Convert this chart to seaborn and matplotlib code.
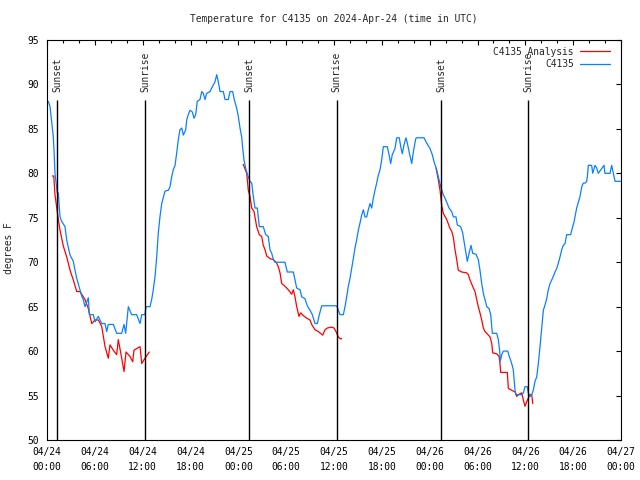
import numpy as np
import pandas as pd
import matplotlib
matplotlib.use("Agg")
import matplotlib.pyplot as plt
import matplotlib.dates as mdates
import seaborn as sns

# hours since 2024-04-24 00:00 UTC, temperatures in F
obs_hours = [0.16, 0.38, 0.66, 0.79, 0.88, 1.0, 1.29, 1.42, 1.63, 1.84, 2.26, 2.47, 2.89, 3.30, 3.51, 3.73,
             4.14, 4.35, 4.55, 4.77, 5.18, 5.31, 5.81, 6.02, 6.44, 6.86, 7.28, 7.49, 7.69, 8.32, 8.74, 9.37,
             9.66, 9.87, 10.20, 10.62, 11.25, 11.67, 11.88, 12.29, 12.42, 12.92, 13.13, 13.33, 13.55, 13.76,
             13.96, 14.17, 14.39, 14.80, 15.22, 15.43, 15.64, 15.84, 16.06, 16.27, 16.47, 16.68, 16.90, 17.10,
             17.40, 17.52, 17.72, 17.94, 18.23, 18.44, 18.65, 18.85, 19.19, 19.41, 19.61, 19.82, 20.03, 20.45,
             20.66, 21.07, 21.29, 21.49, 21.70, 22.12, 22.33, 22.74, 22.96, 23.29, 23.49, 23.80, 24.00, 24.21,
             24.42, 24.55, 24.71, 24.96, 25.25, 25.46, 25.68, 25.88, 26.09, 26.38, 26.63, 27.13, 27.43, 27.76,
             27.97, 28.19, 28.39, 28.60, 29.85, 30.14, 30.90, 31.11, 31.32, 31.74, 31.95, 32.36, 32.65, 32.99,
             33.28, 33.62, 33.91, 34.16, 34.46, 36.34, 36.54, 36.75, 37.17, 37.38, 37.59, 37.80, 38.01, 38.22,
             38.42, 38.63, 38.84, 39.05, 39.26, 39.47, 39.68, 39.89, 40.10, 40.30, 40.52, 40.73, 40.93, 41.14,
             41.35, 41.56, 41.77, 41.98, 42.19, 42.69, 42.90, 43.11, 43.31, 43.65, 43.87, 44.19, 44.37, 44.57,
             44.78, 45.03, 45.20, 45.45, 45.75, 45.95, 46.25, 46.37, 47.29, 47.63, 48.04, 48.33, 48.55, 48.88,
             49.17, 49.38, 49.71, 49.92, 50.21, 50.43, 50.76, 50.97, 51.30, 51.47, 51.89, 52.14, 52.35, 52.52,
             52.72, 52.94, 53.19, 53.40, 53.81, 54.10, 54.31, 54.53, 54.73, 54.94, 55.16, 55.44, 55.66, 55.86,
             56.41, 56.61, 56.80, 56.83, 57.04, 57.24, 57.79, 57.99, 58.29, 58.49, 58.71, 58.83, 59.55, 59.75,
             59.96, 60.25, 60.37, 60.59, 60.80, 61.00, 61.21, 61.43, 61.63, 61.84, 62.05, 62.26, 62.47, 62.68,
             62.88, 63.10, 63.31, 63.51, 63.72, 63.94, 64.14, 64.35, 64.56, 64.76, 64.98, 65.19, 65.69, 65.82,
             66.10, 66.44, 66.86, 67.08, 67.27, 67.49, 67.70, 67.82, 67.90, 68.32, 68.45, 68.74, 68.95, 69.15,
             69.87, 69.99, 70.62, 70.83, 71.04, 71.25, 72.0]
obs_temps = [88.1, 87.5, 85.1, 84.1, 82.6, 80.0, 77.8, 77.8, 75.1, 74.6, 74.0, 72.5, 70.8, 70.1, 69.1, 68.2,
             66.9, 66.2, 65.8, 65.0, 66.0, 64.1, 64.1, 63.3, 63.9, 63.1, 63.1, 62.2, 63.0, 63.0, 62.0, 62.0,
             63.0, 62.0, 65.0, 64.1, 64.1, 63.1, 64.1, 64.1, 65.0, 65.0, 65.8, 66.9, 68.4, 70.6,
             73.3, 75.1, 76.6, 78.0, 78.1, 78.5, 79.6, 80.4, 80.9, 82.3, 83.8, 84.9, 85.1, 84.3,
             84.9, 86.0, 86.6, 87.1, 86.9, 86.2, 86.6, 88.1, 88.3, 89.2, 89.0, 88.3, 89.0, 89.2,
             89.6, 90.3, 91.1, 90.3, 89.2, 89.2, 88.3, 88.3, 89.2, 89.2, 88.3, 87.3, 86.4, 85.1,
             84.1, 82.8, 81.5, 80.4, 79.6, 79.1, 78.9, 77.4, 76.1, 76.1, 74.0, 74.0, 73.1, 72.9,
             71.4, 71.0, 70.3, 70.0, 70.0, 68.9, 68.9, 68.0, 67.1, 66.9, 66.1, 65.9, 65.1, 64.6,
             64.1, 63.1, 63.1, 64.1, 65.1, 65.1, 64.6, 64.1, 64.1, 65.0, 66.1, 67.3, 68.2, 69.3,
             70.4, 71.6, 72.5, 73.6, 74.4, 75.3, 75.9, 75.1, 75.1, 75.9, 76.6, 76.1, 77.2, 78.1,
             78.9, 79.8, 80.4, 81.5, 83.0, 83.0, 82.1, 81.1, 82.1, 82.8, 84.0, 84.0, 83.0, 82.2,
             83.2, 84.0, 83.4, 82.3, 81.1, 82.4, 83.9, 84.0, 84.0, 83.4, 82.8, 82.1, 81.3, 80.4,
             79.3, 78.5, 77.6, 77.2, 76.6, 76.1, 75.7, 75.1, 75.1, 74.2, 74.0, 73.3, 72.1, 71.2,
             70.1, 71.0, 71.9, 71.0, 70.9, 70.3, 69.1, 67.6, 66.5, 65.8, 65.0, 64.8, 64.1, 62.0,
             62.0, 61.3, 59.9, 58.8, 59.6, 60.0, 60.0, 59.4, 58.6, 57.9, 55.6, 55.1, 55.1, 55.3,
             56.0, 56.0, 55.3, 54.9, 55.1, 55.6, 56.6, 57.1, 58.6, 60.5, 62.6, 64.6, 65.2, 65.9,
             66.9, 67.6, 68.0, 68.4, 68.9, 69.3, 69.9, 70.6, 71.4, 71.9, 72.1, 73.1, 73.1, 73.6,
             74.5, 76.1, 77.4, 78.5, 78.9, 78.9, 79.1, 80.0, 80.9, 80.9, 80.0, 80.9, 80.6, 80.0,
             80.9, 80.0, 80.0, 80.9, 80.0, 79.1, 79.1]

ana1_hours = [0.66, 0.85, 1.0, 1.42, 1.63, 2.05, 2.47, 2.89, 3.30, 3.73, 4.14, 4.77, 5.18, 5.61, 6.02,
              6.44, 6.86, 7.28, 7.69, 7.90, 8.32, 8.74, 8.94, 9.37, 9.66, 9.91, 10.41, 10.75, 10.91, 11.67,
              11.88, 12.29, 12.83]
ana1_temps = [79.7, 79.7, 77.6, 74.8, 73.6, 71.8, 70.6, 69.1, 68.0, 66.7, 66.7, 65.8, 64.8, 63.1, 63.5,
              63.5, 62.8, 60.5, 59.2, 60.7, 60.1, 59.6, 61.3, 59.2, 57.7, 59.9, 59.4, 58.8, 60.1, 60.5,
              58.6, 59.2, 59.9]
ana2_hours = [24.62, 25.05, 25.25, 25.46, 25.68, 25.97, 26.30, 26.63, 26.93, 27.13, 27.35, 27.56, 27.97,
              28.39, 28.81, 29.01, 29.23, 29.44, 29.85, 30.27, 30.69, 30.90, 31.11, 31.32, 31.61, 31.82,
              32.15, 32.58, 32.99, 33.20, 33.62, 34.03, 34.58, 34.87, 35.16, 35.71, 36.00, 36.25, 36.54,
              36.75, 36.97]
ana2_temps = [81.0, 80.0, 78.1, 77.4, 76.1, 75.7, 74.0, 73.1, 72.9, 71.9, 71.4, 70.7, 70.4,
              70.3, 69.9, 69.5, 68.8, 67.6, 67.3, 66.9, 66.4, 66.9, 66.1, 65.0, 63.9, 64.3,
              64.0, 63.7, 63.5, 63.0, 62.4, 62.2, 61.8, 62.4, 62.6, 62.7, 62.6, 62.2, 61.6,
              61.4, 61.4]
ana3_hours = [48.80, 49.08, 49.30, 49.51, 49.71, 50.14, 50.55, 50.76, 50.97, 51.18, 51.39, 51.59, 52.02,
              52.65, 52.85, 53.06, 53.48, 53.69, 53.90, 54.10, 54.31, 54.53, 54.73, 54.94, 55.57, 55.78,
              55.91, 56.41, 56.70, 56.82, 56.91, 57.74, 57.87, 58.29, 58.71, 58.92, 59.12, 59.55, 59.75,
              59.96, 60.17, 60.37, 60.59, 60.80, 60.93]
ana3_temps = [80.6, 79.3, 78.1, 76.4, 75.5, 74.8, 73.8, 73.5, 72.8, 71.4, 70.3, 69.1, 68.9,
              68.8, 68.6, 68.0, 67.1, 66.7, 65.8, 65.0, 64.3, 63.5, 62.6, 62.2, 61.6, 60.9,
              59.8, 59.7, 59.4, 58.6, 57.6, 57.6, 55.8, 55.6, 55.4, 54.9, 55.1, 55.3, 54.5,
              53.8, 54.3, 54.7, 55.1, 55.1, 54.1]

sun_hours = [1.29, 12.33, 25.38, 36.34, 49.46, 60.37]
sun_labels = ["Sunset", "Sunrise", "Sunset", "Sunrise", "Sunset", "Sunrise"]

base = pd.Timestamp("2024-04-24 00:00")


def to_time(hours):
    return base + pd.to_timedelta(np.array(hours), unit="h")


sns.set_style("white")
plt.rcParams['font.family'] = ['DejaVu Sans Mono']
fs = 6.9

fig = plt.figure(figsize=(6.4, 4.8), dpi=100)
ax = fig.add_axes([47 / 640, 40 / 480, 574 / 640, 400 / 480])

red = "#ff0000"
blue = "#0a80ff"

for i, (h, t) in enumerate([(ana1_hours, ana1_temps), (ana2_hours, ana2_temps), (ana3_hours, ana3_temps)]):
    sns.lineplot(x=to_time(h), y=t, color=red, linewidth=0.9, ax=ax,
                 label="C4135 Analysis" if i == 0 else None)
sns.lineplot(x=to_time(obs_hours), y=obs_temps, color=blue, linewidth=0.9, ax=ax, label="C4135")

# sunrise / sunset markers
for h, lab in zip(sun_hours, sun_labels):
    x = to_time([h])[0]
    ax.vlines(x, 50, 88.3, color="black", linewidth=1)
    ax.text(x, 89.2, lab, rotation=90, ha="center", va="bottom", fontsize=fs)

ax.set_xlim(base, base + pd.Timedelta(hours=72))
ax.set_ylim(50, 95)
ax.set_yticks(range(50, 96, 5))
ax.xaxis.set_major_locator(mdates.HourLocator(byhour=[0, 6, 12, 18]))
ax.xaxis.set_minor_locator(mdates.HourLocator(interval=2))
ax.xaxis.set_major_formatter(mdates.DateFormatter("%m/%d\n%H:%M"))
ax.tick_params(which="both", direction="in", top=True, right=True, labelsize=fs, colors="black")
ax.tick_params(which="major", length=3.5, width=0.8)
ax.tick_params(which="minor", length=2, width=0.8)
ax.tick_params(axis="y", pad=6)
ax.tick_params(axis="x", pad=5)
for lbl in ax.get_xticklabels():
    lbl.set_linespacing(1.6)
for s in ax.spines.values():
    s.set_color("black")
    s.set_linewidth(0.8)

ax.set_xlabel("")
ax.set_ylabel("degrees F", fontsize=fs)
ax.yaxis.set_label_coords(-0.058, 0.48)
ax.set_title("Temperature for C4135 on 2024-Apr-24 (time in UTC)", fontsize=fs, pad=13)

ax.legend(loc="upper right", bbox_to_anchor=(0.993, 1.0), frameon=False, markerfirst=False,
          fontsize=fs, handlelength=3.2, handletextpad=0.6, labelspacing=0.25, borderaxespad=0.3)

fig.savefig("out.png", dpi=100)
